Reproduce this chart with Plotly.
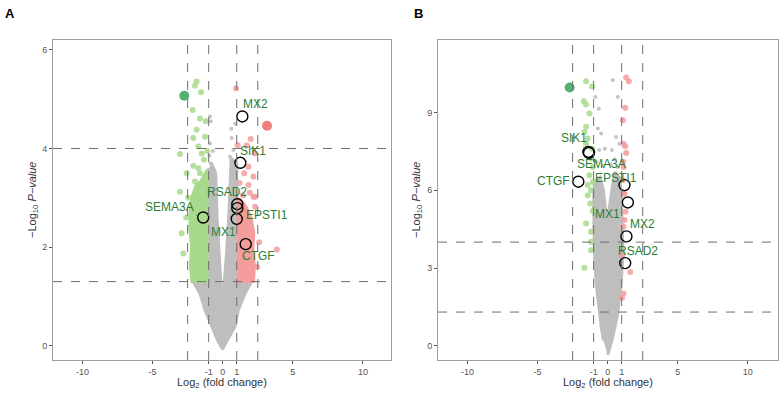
import plotly.graph_objects as go

# ---------------- DATA ----------------
x_ticks = [-10, -5, -1, 0, 1, 5, 10]
x_tick_labels = ["-10", "-5", "-1", "0", "1", "5", "10"]
a_y_ticks = [0, 2, 4, 6]
b_y_ticks = [0, 3, 6, 9]
fc_cuts = [-2.5, -1, 1, 2.5]
p_cuts = [1.3, 4]

# Panel A: dense regions (envelopes)
a_gray_x = [-1.0, -1.0, -2.1, -1.62, -1.26, -0.8, -0.35, 0.0, 0.3, 0.88, 1.11, 1.59, 2.07, 1.0, 1.0, 0.6, 0.45, 0.28, 0.1, 0.0, -0.1, -0.25, -0.4, -0.5, -0.8]
a_gray_y = [3.6, 1.3, 1.3, 1.06, 0.72, 0.39, 0.1, -0.07, 0.1, 0.39, 0.72, 1.06, 1.3, 1.3, 3.7, 3.8, 2.7, 1.9, 1.1, 0.86, 1.1, 1.9, 2.6, 3.5, 3.7]
a_green_x = [-1.0, -2.2, -2.3, -2.22, -2.35, -2.3, -2.15, -1.9, -1.5, -1.15, -1.0]
a_green_y = [1.3, 1.3, 1.6, 2.0, 2.4, 2.8, 3.05, 3.25, 3.35, 3.55, 3.55]
a_red_x = [1.0, 2.2, 2.25, 2.15, 2.22, 2.0, 1.7, 1.3, 1.0]
a_red_y = [1.3, 1.3, 1.6, 2.0, 2.3, 2.6, 2.8, 2.95, 3.0]

# Panel A: scattered points
a_green_pts_x = [-1.86, -1.98, -1.55, -2.14, -1.62, -1.86, -1.26, -2.1, -1.74, -1.5, -3.05, -1.34, -2.1, -1.74, -2.57, -1.62, -1.39, -1.98, -3.05, -1.62, -1.14, -2.81, -2.93, -2.6, -2.45, -1.2, -1.1]
a_green_pts_y = [5.36, 5.27, 5.14, 4.78, 4.61, 4.38, 4.24, 4.21, 4.04, 3.9, 3.89, 3.77, 3.65, 3.6, 3.5, 3.5, 3.36, 3.33, 3.12, 3.22, 3.09, 1.87, 2.28, 2.6, 3.0, 4.55, 3.95]
a_red_pts_x = [0.95, 2.0, 1.71, 2.31, 1.07, 1.83, 1.54, 2.19, 1.83, 2.31, 1.93, 3.86, 2.31, 2.19, 1.2, 1.45, 2.6, 2.45]
a_red_pts_y = [5.22, 4.19, 4.06, 3.9, 4.07, 3.63, 3.5, 3.43, 3.26, 3.02, 3.1, 1.95, 2.82, 3.02, 3.3, 3.05, 2.1, 1.6]
a_gray_pts_x = [-0.91, -0.85, 0.64, 0.76, -0.86, 0.52, -0.95, 0.8, -0.7, 0.62, -0.9, 0.9]
a_gray_pts_y = [4.65, 4.55, 4.21, 3.97, 3.7, 3.83, 3.85, 3.6, 3.95, 4.4, 4.1, 4.5]
a_big_x = [-2.74, 3.16]
a_big_y = [5.07, 4.46]

# Panel A: highlighted genes
a_genes = ["MX2", "SIK1", "RSAD2", "EPSTI1", "MX1", "SEMA3A", "CTGF"]
a_gene_x = [1.4, 1.26, 1.04, 1.04, 1.0, -1.39, 1.64]
a_gene_y = [4.65, 3.71, 2.87, 2.79, 2.57, 2.6, 2.06]
a_label_x = [2.36, 2.16, 0.29, 3.14, 0.04, -3.76, 2.54]
a_label_y = [4.9, 3.94, 3.12, 2.65, 2.31, 2.82, 1.81]

# Panel B: dense region
b_gray_x = [0.0, 0.3, 0.55, 0.72, 0.85, 0.96, 1.05, 1.08, 1.05, 1.0, 0.95, 0.85, 0.5, 0.3, 0.1, 0.0, -0.15, -0.3, -0.55, -0.95, -1.0, -0.98, -0.95, -0.82, -0.7, -0.59, -0.45, -0.3]
b_gray_y = [-0.35, 0.2, 0.8, 1.25, 1.9, 2.4, 3.2, 3.7, 4.5, 5.2, 6.0, 6.5, 6.7, 6.0, 5.2, 4.9, 5.2, 6.0, 6.5, 6.3, 5.5, 4.5, 3.7, 2.4, 1.8, 1.25, 0.7, 0.2]

# Panel B: scattered points
b_green_pts_x = [-1.54, -1.11, -1.7, -1.54, -1.3, -1.54, -1.66, -1.42, -1.54, -1.18, -1.06, -1.3, -1.06, -1.42, -1.18, -1.42, -1.25, -1.54, -1.18, -1.18, -1.18, -1.66, -1.06, -1.1]
b_green_pts_y = [10.21, 10.01, 9.44, 9.31, 8.96, 8.45, 8.25, 8.0, 7.8, 7.23, 6.9, 6.58, 6.32, 6.2, 6.0, 5.81, 5.49, 4.72, 4.4, 4.01, 3.69, 3.01, 5.2, 7.6]
b_red_pts_x = [1.32, 1.51, 1.25, 1.08, 1.13, 1.25, 1.32, 1.13, 1.08, 1.2, 1.13, 1.27, 1.2, 1.13, 1.61, 1.13, 1.03, 1.1, 1.05]
b_red_pts_y = [10.35, 10.21, 9.19, 8.7, 7.8, 7.7, 7.44, 6.9, 6.4, 5.88, 5.88, 5.17, 4.85, 4.59, 2.85, 2.02, 1.85, 7.1, 3.5]
b_gray_pts_x = [0.37, 0.72, -0.87, -0.63, -0.7, -0.46, 0.6, 0.84, -0.2, 0.3, -0.6, 0.5, -0.8, 0.7, 0.2, -0.35]
b_gray_pts_y = [10.25, 9.6, 9.6, 9.15, 8.38, 8.19, 8.06, 7.8, 7.6, 7.55, 7.55, 7.2, 7.1, 6.9, 7.0, 6.95]
b_big_x = [-2.71]
b_big_y = [9.97]

# Panel B: highlighted genes
b_genes = ["SIK1", "SEMA3A", "CTGF", "EPSTI1", "MX1", "MX2", "RSAD2"]
b_gene_x = [-1.37, -1.33, -2.09, 1.2, 1.44, 1.34, 1.25]
b_gene_y = [7.48, 7.44, 6.33, 6.2, 5.53, 4.22, 3.19]
b_label_x = [-2.37, -0.46, -3.85, 0.56, 0.0, 2.5, 2.15]
b_label_y = [8.0, 7.03, 6.35, 6.48, 5.07, 4.69, 3.65]

# ---------------- STYLE ----------------
W, H = 784, 394
GRAY = "#BEBEBE"
GREEN = "#A8D98C"
RED = "#F59C9C"
BIG_GREEN = "#55B072"
BIG_RED = "#F07E7E"
LABEL = "#2E7D32"
FONT = "Liberation Sans, Arial, sans-serif"

fig = go.Figure()


def add_panel(xs, ys, polys, greens, reds, grays, bigs, genes):
    for (px, py, col) in polys:
        fig.add_trace(go.Scatter(x=px, y=py, fill="toself", fillcolor=col, mode="lines",
                                 line=dict(color=col, width=3), xaxis=xs, yaxis=ys,
                                 hoverinfo="skip", showlegend=False))
    for (px, py, col, sz, op) in [(grays[0], grays[1], GRAY, 4, 0.9),
                                  (greens[0], greens[1], GREEN, 6, 0.85),
                                  (reds[0], reds[1], RED, 6, 0.85)]:
        fig.add_trace(go.Scatter(x=px, y=py, mode="markers", xaxis=xs, yaxis=ys,
                                 marker=dict(color=col, size=sz, opacity=op, line=dict(width=0)),
                                 showlegend=False))
    for (px, py, col) in bigs:
        fig.add_trace(go.Scatter(x=px, y=py, mode="markers", xaxis=xs, yaxis=ys,
                                 marker=dict(color=col, size=10, line=dict(width=0)),
                                 showlegend=False))
    names, gx, gy, lx, ly = genes
    fig.add_trace(go.Scatter(x=gx, y=gy, mode="markers", xaxis=xs, yaxis=ys,
                             marker=dict(color="rgba(0,0,0,0)", size=11,
                                         line=dict(color="black", width=1.4)),
                             showlegend=False))
    for n, a, b, c, d in zip(names, gx, gy, lx, ly):
        fig.add_annotation(x=a, y=b, ax=c, ay=d, xref=xs, yref=ys, axref=xs, ayref=ys,
                           text=n, showarrow=True, arrowhead=0, arrowwidth=0.8,
                           arrowcolor=LABEL, standoff=5,
                           font=dict(color=LABEL, size=12, family=FONT))
    for c in fc_cuts:
        fig.add_shape(type="line", xref=xs, yref=ys + " domain", x0=c, x1=c, y0=0, y1=1,
                      line=dict(color="#6E6E6E", width=1, dash="dash"))
    for c in p_cuts:
        fig.add_shape(type="line", xref=xs + " domain", yref=ys, x0=0, x1=1, y0=c, y1=c,
                      line=dict(color="#6E6E6E", width=1, dash="dash"))


add_panel("x", "y",
          [(a_gray_x, a_gray_y, GRAY), (a_green_x, a_green_y, GREEN), (a_red_x, a_red_y, RED)],
          (a_green_pts_x, a_green_pts_y), (a_red_pts_x, a_red_pts_y), (a_gray_pts_x, a_gray_pts_y),
          [([a_big_x[0]], [a_big_y[0]], BIG_GREEN), ([a_big_x[1]], [a_big_y[1]], BIG_RED)],
          (a_genes, a_gene_x, a_gene_y, a_label_x, a_label_y))
add_panel("x2", "y2",
          [(b_gray_x, b_gray_y, GRAY)],
          (b_green_pts_x, b_green_pts_y), (b_red_pts_x, b_red_pts_y), (b_gray_pts_x, b_gray_pts_y),
          [(b_big_x, b_big_y, BIG_GREEN)],
          (b_genes, b_gene_x, b_gene_y, b_label_x, b_label_y))

axis_common = dict(showgrid=False, zeroline=False, showline=True, mirror=True,
                   linecolor="#9E9E9E", linewidth=1, ticks="outside", ticklen=3,
                   tickcolor="#555555", tickfont=dict(size=9, color="#555555", family=FONT))

fig.update_layout(
    width=W, height=H, margin=dict(l=0, r=0, t=0, b=0),
    paper_bgcolor="white", plot_bgcolor="white", showlegend=False,
    font=dict(family=FONT),
    xaxis=dict(domain=[53 / W, 391 / W], range=[-12.1, 12.0], tickvals=x_ticks,
               ticktext=x_tick_labels, anchor="y", **axis_common),
    yaxis=dict(domain=[1 - 360 / H, 1 - 40 / H], range=[-0.29, 6.2], tickvals=a_y_ticks,
               ticktext=[str(v) for v in a_y_ticks], anchor="x", **axis_common),
    xaxis2=dict(domain=[438 / W, 778 / W], range=[-12.1, 12.15], tickvals=x_ticks,
                ticktext=x_tick_labels, anchor="y2", **axis_common),
    yaxis2=dict(domain=[1 - 360 / H, 1 - 40 / H], range=[-0.55, 11.8], tickvals=b_y_ticks,
                ticktext=[str(v) for v in b_y_ticks], anchor="x2", **axis_common),
)

# titles and panel letters
ytitle = "\u2212Log<sub>10</sub> <i>P\u2212value</i>"
xtitle = "Log<sub>2</sub> (fold change)"
for xc, yx in [(222 / W, 33 / W), (608 / W, 417 / W)]:
    fig.add_annotation(x=xc, y=1 - 383 / H, xref="paper", yref="paper", text=xtitle,
                       xanchor="center", yanchor="middle",
                       showarrow=False, font=dict(size=11, color="#333333", family=FONT))
    fig.add_annotation(x=yx, y=1 - 200 / H, xref="paper", yref="paper", text=ytitle,
                       xanchor="center", yanchor="middle", textangle=-90, showarrow=False,
                       font=dict(size=11, color="#333333", family=FONT))
fig.add_annotation(x=3 / W, y=1 - 4 / H, xref="paper", yref="paper", text="<b>A</b>",
                   showarrow=False, xanchor="left", yanchor="top",
                   font=dict(size=13, color="black", family=FONT))
fig.add_annotation(x=412 / W, y=1 - 4 / H, xref="paper", yref="paper", text="<b>B</b>",
                   showarrow=False, xanchor="left", yanchor="top",
                   font=dict(size=13, color="black", family=FONT))

fig.write_html("out.html", config={"displayModeBar": False},
               post_script="document.body.style.margin='0px';document.body.style.overflow='hidden';")
